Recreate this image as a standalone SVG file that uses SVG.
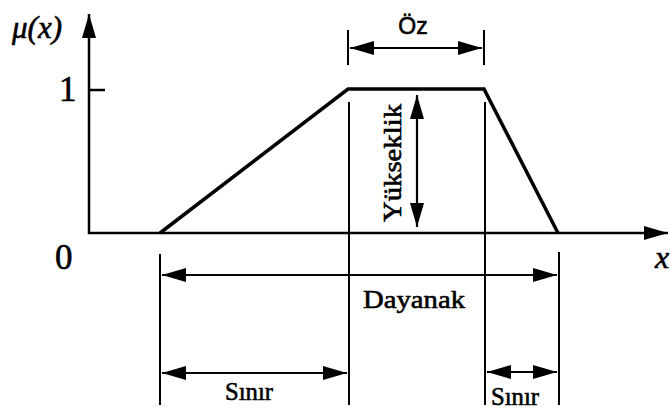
<svg xmlns="http://www.w3.org/2000/svg" width="670" height="410" viewBox="0 0 670 410">
<defs>
<marker id="ah" markerUnits="userSpaceOnUse" markerWidth="26" markerHeight="16" refX="24" refY="7" orient="auto-start-reverse">
<path d="M0,0 L24,7 L0,14 Z" fill="#000"/>
</marker>
<style>
.ax{stroke:#000;stroke-width:2.5;fill:none}
.mf{stroke:#000;stroke-width:3.5;fill:none;stroke-linejoin:miter}
.gd{stroke:#000;stroke-width:2;fill:none}
.dim{stroke:#000;stroke-width:2.2;fill:none;marker-start:url(#ah);marker-end:url(#ah)}
.serif{font-family:"Liberation Serif","Times New Roman",serif;fill:#000;stroke:#000;stroke-width:0.6}
.sans{font-family:"Liberation Sans",Arial,sans-serif;fill:#000;stroke:#000;stroke-width:0.6}
</style>
</defs>
<rect width="670" height="410" fill="#fff"/>
<g id="axes">
<line class="ax" x1="89" y1="234" x2="89" y2="14" marker-end="url(#ah)"/>
<line class="ax" x1="88" y1="233" x2="668" y2="233" marker-end="url(#ah)"/>
<line class="ax" x1="89" y1="90" x2="105" y2="90"/>
<text class="serif" x="12" y="38" font-size="31" font-style="italic">μ(x)</text>
<text class="serif" x="59" y="101" font-size="35">1</text>
<text class="serif" x="55" y="269" font-size="35">0</text>
<text class="serif" x="655" y="268" font-size="32" font-style="italic">x</text>
</g>
<g id="membership">
<polyline class="mf" points="160,233 348,89 484,89 558,233"/>
</g>
<g id="connectors">
<line class="gd" x1="348" y1="30" x2="348" y2="65"/>
<line class="gd" x1="484" y1="30" x2="484" y2="65"/>
<line class="gd" x1="349" y1="102" x2="349" y2="405"/>
<line class="gd" x1="485" y1="102" x2="485" y2="405"/>
<line class="gd" x1="160" y1="254" x2="160" y2="405"/>
<line class="gd" x1="559" y1="252" x2="559" y2="405"/>
<line class="dim" x1="350" y1="48" x2="482" y2="48"/>
<line class="dim" x1="417" y1="95" x2="417" y2="227"/>
<line class="dim" x1="162" y1="275" x2="557" y2="275"/>
<line class="dim" x1="162" y1="373" x2="347" y2="373"/>
<line class="dim" x1="487" y1="372" x2="557" y2="372"/>
</g>
<g id="labels">
<text class="sans" x="413" y="34" font-size="23" text-anchor="middle">Öz</text>
<text class="serif" transform="translate(401,163) rotate(-90)" font-size="26" text-anchor="middle" textLength="118" lengthAdjust="spacingAndGlyphs">Yükseklik</text>
<text class="serif" x="363" y="308" font-size="26" textLength="102" lengthAdjust="spacingAndGlyphs">Dayanak</text>
<text class="serif" x="225" y="400" font-size="26" textLength="48" lengthAdjust="spacingAndGlyphs">Sınır</text>
<text class="serif" x="491" y="405" font-size="25" textLength="48" lengthAdjust="spacingAndGlyphs">Sınır</text>
</g>
</svg>
